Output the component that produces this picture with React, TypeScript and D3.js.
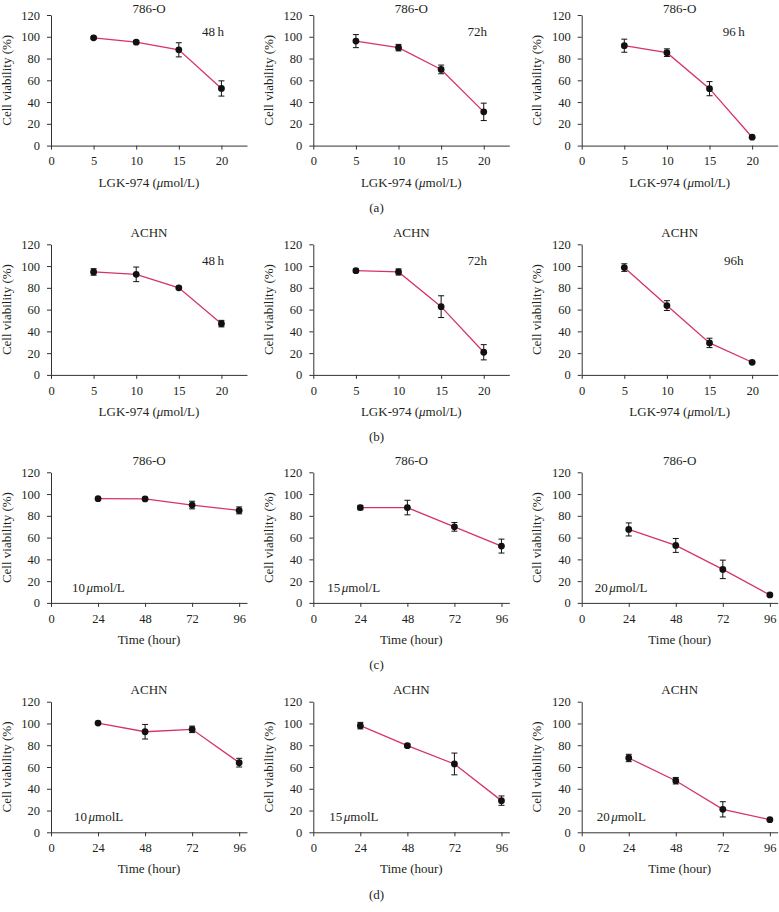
import React, { useEffect, useRef } from "react";
import * as d3 from "d3";

// ---------- data ----------
const doses = [5, 10, 15, 20];
const hours = [24, 48, 72, 96];
const doseTicks = [0, 5, 10, 15, 20];
const hourTicks = [0, 24, 48, 72, 96];
const yTicks = [0, 20, 40, 60, 80, 100, 120];

const a48Mean = [99, 95, 88, 52.5];
const a48Err = [1, 1.5, 6.5, 7];
const a72Mean = [96, 90, 70, 31];
const a72Err = [6, 3, 4, 8];
const a96Mean = [91.8, 85.4, 52.3, 7.7];
const a96Err = [6, 3.5, 6.5, 1];

const b48Mean = [94.6, 92.4, 80, 47.1];
const b48Err = [3, 6.7, 1, 3];
const b72Mean = [95.8, 94.6, 62.7, 20.8];
const b72Err = [1.5, 2.8, 10, 7];
const b96Mean = [98.6, 63.7, 29.4, 11.6];
const b96Err = [3.5, 4.5, 4.3, 1];

const c10Mean = [95.8, 95.5, 89.9, 85];
const c10Err = [1, 1, 3.5, 3.2];
const c15Mean = [87.6, 87.6, 69.9, 52.2];
const c15Err = [2, 6.7, 4, 6.4];
const c20Mean = [67.5, 52.8, 30.8, 7.3];
const c20Err = [6, 6.4, 8.5, 1];

const d10Mean = [100.4, 92.4, 94.6, 64];
const d10Err = [1, 6.7, 3, 4];
const d15Mean = [98, 79.6, 62.8, 29.1];
const d15Err = [3, 1.5, 10, 4.3];
const d20Mean = [68.3, 47.4, 21.1, 11.6];
const d20Err = [3.4, 3, 7, 1];

const rowTitles = ["786-O", "ACHN", "786-O", "ACHN"];
const rowLetters = ["(a)", "(b)", "(c)", "(d)"];
const doseNotesA = ["48\u2009h", "72h", "96\u2009h"];
const doseNotesB = ["48\u2009h", "72h", "96h"];
const concNumbers = ["10", "15", "20"];
const concUnitC = "mol/L";
const concUnitD = "molL";

// ---------- layout ----------
const W = 779;
const H = 912;
const colX = [51, 313.3, 581.7];
const rowTop = [15, 244.3, 472.3, 701.7];
const plotW = 196;
const plotH = 130.6;
const doseNoteDx = [162, 164, 152];
const concDx = [21, 14, 13];
const lineColor = "#d6336b";
const axisColor = "#333";
const textColor = "#231f20";
const font = "'Liberation Serif', 'Times New Roman', serif";

type PanelDef = {
  row: number;
  col: number;
  xs: number[];
  mean: number[];
  err: number[];
  kind: "dose" | "time";
  note: string;
};

const panels: PanelDef[] = [
  { row: 0, col: 0, xs: doses, mean: a48Mean, err: a48Err, kind: "dose", note: doseNotesA[0] },
  { row: 0, col: 1, xs: doses, mean: a72Mean, err: a72Err, kind: "dose", note: doseNotesA[1] },
  { row: 0, col: 2, xs: doses, mean: a96Mean, err: a96Err, kind: "dose", note: doseNotesA[2] },
  { row: 1, col: 0, xs: doses, mean: b48Mean, err: b48Err, kind: "dose", note: doseNotesB[0] },
  { row: 1, col: 1, xs: doses, mean: b72Mean, err: b72Err, kind: "dose", note: doseNotesB[1] },
  { row: 1, col: 2, xs: doses, mean: b96Mean, err: b96Err, kind: "dose", note: doseNotesB[2] },
  { row: 2, col: 0, xs: hours, mean: c10Mean, err: c10Err, kind: "time", note: concNumbers[0] },
  { row: 2, col: 1, xs: hours, mean: c15Mean, err: c15Err, kind: "time", note: concNumbers[1] },
  { row: 2, col: 2, xs: hours, mean: c20Mean, err: c20Err, kind: "time", note: concNumbers[2] },
  { row: 3, col: 0, xs: hours, mean: d10Mean, err: d10Err, kind: "time", note: concNumbers[0] },
  { row: 3, col: 1, xs: hours, mean: d15Mean, err: d15Err, kind: "time", note: concNumbers[1] },
  { row: 3, col: 2, xs: hours, mean: d20Mean, err: d20Err, kind: "time", note: concNumbers[2] },
];

function Panel({ p }: { p: PanelDef }) {
  const gx = useRef<SVGGElement>(null);
  const gy = useRef<SVGGElement>(null);
  const ox = colX[p.col];
  const oy = rowTop[p.row];
  const x = d3
    .scaleLinear()
    .domain(p.kind === "dose" ? [0, 23] : [0, 100])
    .range([0, plotW]);
  const y = d3.scaleLinear().domain([0, 120]).range([plotH, 0]);
  const ticks = p.kind === "dose" ? doseTicks : hourTicks;

  useEffect(() => {
    const xa = d3.axisBottom(x).tickValues(ticks).tickSize(4).tickSizeOuter(0).tickPadding(7);
    const ya = d3.axisLeft(y).tickValues(yTicks).tickSize(4).tickSizeOuter(0).tickPadding(7);
    const sx = d3.select(gx.current!).call(xa as any);
    const sy = d3.select(gy.current!).call(ya as any);
    [sx, sy].forEach((s) => {
      s.attr("font-family", font).attr("font-size", 12.5);
      s.selectAll("path,line").attr("stroke", axisColor).attr("stroke-width", 1);
      s.selectAll("text").attr("fill", textColor);
    });
  });

  const line = d3
    .line<number>()
    .x((_, i) => x(p.xs[i]))
    .y((d) => y(d));

  const cap = 3;
  return (
    <g transform={`translate(${ox},${oy})`}>
      <text
        x={plotW / 2}
        y={p.row === 0 ? -2.5 : -7.5}
        textAnchor="middle"
        fontFamily={font}
        fontSize={13}
        fill={textColor}
      >
        {rowTitles[p.row]}
      </text>
      <g ref={gx} transform={`translate(0,${plotH})`} />
      <g ref={gy} />
      <path d={line(p.mean) || ""} fill="none" stroke={lineColor} strokeWidth={1.3} />
      {p.mean.map((m, i) => {
        const cx = x(p.xs[i]);
        const yt = y(m + p.err[i]);
        const yb = y(m - p.err[i]);
        return (
          <g key={i}>
            <line x1={cx} x2={cx} y1={yt} y2={yb} stroke="#111" strokeWidth={1} />
            <line x1={cx - cap} x2={cx + cap} y1={yt} y2={yt} stroke="#111" strokeWidth={1} />
            <line x1={cx - cap} x2={cx + cap} y1={yb} y2={yb} stroke="#111" strokeWidth={1} />
            <circle cx={cx} cy={y(m)} r={3.4} fill="#111" />
          </g>
        );
      })}
      {p.kind === "dose" ? (
        <text
          x={doseNoteDx[p.col]}
          y={21}
          textAnchor="middle"
          fontFamily={font}
          fontSize={13}
          fill={textColor}
        >
          {p.note}
        </text>
      ) : (
        <text
          x={concDx[p.col] + (p.row === 3 ? 2 : 0)}
          y={plotH - 11}
          fontFamily={font}
          fontSize={13}
          fill={textColor}
        >
          {p.note}
          <tspan fontStyle="italic" dx={1.5}>
            {"\u03bc"}
          </tspan>
          <tspan>{p.row === 2 ? concUnitC : concUnitD}</tspan>
        </text>
      )}
      <text
        transform={`translate(${-45},${plotH / 2}) rotate(-90)`}
        textAnchor="middle"
        dy="0.35em"
        fontFamily={font}
        fontSize={13}
        fill={textColor}
      >
        Cell viability (%)
      </text>
      <text
        x={plotW / 2}
        y={plotH + 41}
        textAnchor="middle"
        fontFamily={font}
        fontSize={13}
        fill={textColor}
      >
        {p.kind === "dose" ? (
          <>
            {"LGK-974 ("}
            <tspan fontStyle="italic">{"\u03bc"}</tspan>
            {"mol/L)"}
          </>
        ) : (
          "Time (hour)"
        )}
      </text>
    </g>
  );
}

export default function App() {
  return (
    <>
      <style>{`body{margin:0;background:#fff}`}</style>
      <svg width={W} height={H} style={{ display: "block", background: "#fff" }}>
        {panels.map((p, i) => (
          <Panel key={i} p={p} />
        ))}
        {rowLetters.map((l, i) => (
          <text
            key={l}
            x={376.5}
            y={rowTop[i] + 197}
            textAnchor="middle"
            fontFamily={font}
            fontSize={13}
            fill={textColor}
          >
            {l}
          </text>
        ))}
      </svg>
    </>
  );
}
